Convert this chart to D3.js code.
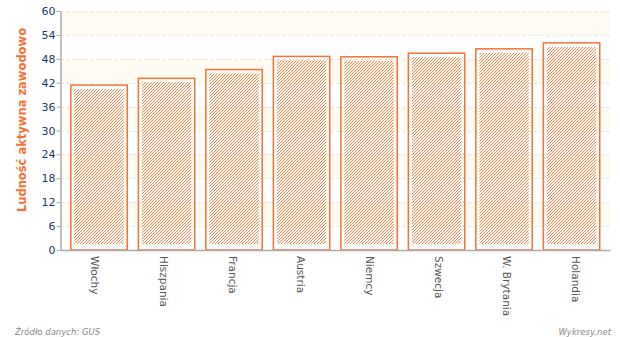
<!DOCTYPE html>
<html><head><meta charset="utf-8">
<script src="https://cdn.jsdelivr.net/npm/d3@7"></script>
<style>body{margin:0;background:#fff;} svg{display:block;}</style>
</head><body>
<svg id="c" width="620" height="337"></svg>
<script>
const categories = ["Włochy","Hiszpania","Francja","Austria","Niemcy","Szwecja","W. Brytania","Holandia"];
const values = [41.4, 43.1, 45.3, 48.6, 48.5, 49.4, 50.5, 52.0];
const yTicks = [0,6,12,18,24,30,36,42,48,54,60];
const yTitle = "Ludność aktywna zawodowo";
const sourceText = "Źródło danych: GUS";
const brandText = "Wykresy.net";

const svg = d3.select("#c");
const L = 60.5, R = 610, T = 11, B = 250;
const orange = "#f47333";

const y = d3.scaleLinear().domain([0,60]).range([B,T]);
const xLab = d3.scaleBand().domain(categories).range([L,R]);
const xBar = d3.scaleBand().domain(categories).range([65.3,605.3]).paddingInner(0.15).paddingOuter(0.075);

const defs = svg.append("defs");
const pat = defs.append("pattern").attr("id","hatch").attr("patternUnits","userSpaceOnUse")
  .attr("width",3).attr("height",3);
pat.append("path").attr("d","M-1,1 l2,-2 M0,3 l3,-3 M2,4 l2,-2")
  .attr("stroke",orange).attr("stroke-width",0.9);

// background bands
const bands = yTicks.slice(0,-1).map((v,i)=>({lo:v,hi:yTicks[i+1],i}));
svg.append("g").selectAll("rect").data(bands.filter(d=>d.i%2===1)).join("rect")
  .attr("x",L).attr("width",R-L)
  .attr("y",d=>y(d.hi)).attr("height",d=>y(d.lo)-y(d.hi))
  .attr("fill","#fffbf3");

// gridlines
svg.append("g").selectAll("line").data(yTicks.filter(v=>v>0)).join("line")
  .attr("x1",L).attr("x2",R).attr("y1",d=>Math.round(y(d))+0.5).attr("y2",d=>Math.round(y(d))+0.5)
  .attr("stroke","#e4e4e4").attr("stroke-dasharray","3,3");

// bars
const g = svg.append("g");
categories.forEach((c,i)=>{
  const x0 = xBar(c), w = xBar.bandwidth(), yt = y(values[i]);
  g.append("rect").attr("x",x0+4).attr("y",yt+4).attr("width",w-8).attr("height",B-yt-10)
    .attr("fill","url(#hatch)");
  g.append("rect").attr("x",x0+0.5).attr("y",yt).attr("width",w-1).attr("height",B-yt)
    .attr("fill","none").attr("stroke",orange).attr("stroke-width",1.5);
});

// axes
const yAxis = d3.axisLeft(y).tickValues(yTicks).tickSize(4).tickSizeOuter(0);
const ga = svg.append("g").attr("transform",`translate(${L},0)`).call(yAxis);
ga.select(".domain").attr("stroke","#aaaaaa").attr("stroke-width",1.5);
ga.selectAll(".tick line").attr("stroke","#aaaaaa");
ga.selectAll("text").attr("fill","#1a3a66").attr("font-family","DejaVu Sans, sans-serif").attr("font-size",11).attr("x",-5);

const xAxis = d3.axisBottom(xLab).tickSize(0).tickSizeOuter(0);
const gx = svg.append("g").attr("transform",`translate(0,${B})`).call(xAxis);
gx.select(".domain").attr("stroke","#aaaaaa").attr("stroke-width",1.5);
gx.selectAll("text").attr("fill","#555").attr("font-family","DejaVu Sans, sans-serif").attr("font-size",10.5)
  .attr("transform","rotate(90)").attr("text-anchor","start").attr("dy","0.35em").attr("x",6).attr("y",0);

svg.append("text").attr("transform","translate(26,120) rotate(-90)")
  .attr("text-anchor","middle").attr("fill",orange).attr("font-weight","bold")
  .attr("font-family","DejaVu Sans, sans-serif").attr("font-size",11.5).text(yTitle);

svg.append("text").attr("x",15).attr("y",335).attr("fill","#888").attr("font-style","italic")
  .attr("font-family","DejaVu Sans, sans-serif").attr("font-size",8.5).text(sourceText);
svg.append("text").attr("x",611).attr("y",335).attr("text-anchor","end").attr("fill","#888").attr("font-style","italic")
  .attr("font-family","DejaVu Sans, sans-serif").attr("font-size",8.5).text(brandText);
</script>
</body></html>
